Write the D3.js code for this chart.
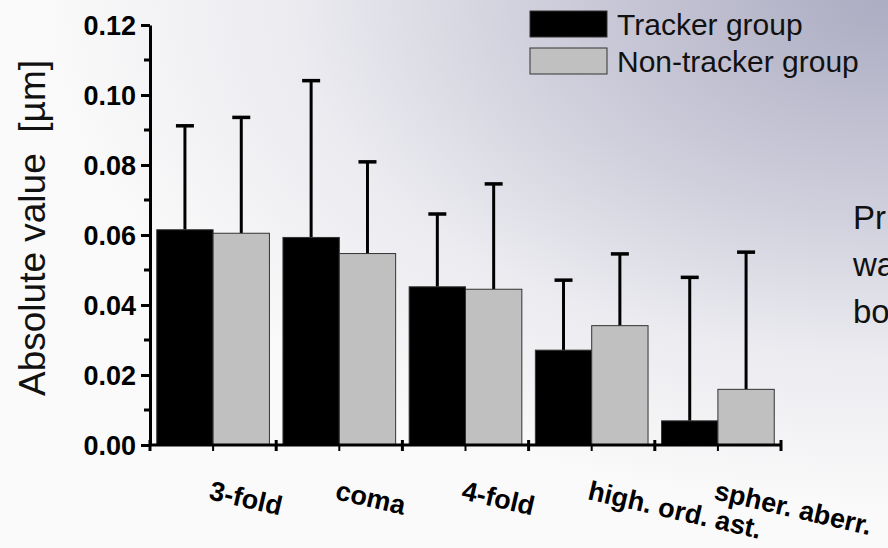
<!DOCTYPE html>
<html>
<head>
<meta charset="utf-8">
<script src="https://cdn.jsdelivr.net/npm/d3@7"></script>
<style>
  body { margin: 0; padding: 0; overflow: hidden; }
  svg { display: block; font-family: Arial, "Liberation Sans", sans-serif; }
</style>
</head>
<body>
<script>
// data
const categories = ["3-fold", "coma", "4-fold", "high. ord. ast.", "spher. aberr."];
const seriesNames = ["Tracker group", "Non-tracker group"];
const trackerValues = [0.0615, 0.0593, 0.0452, 0.0271, 0.0069];
const trackerErrors = [0.0297, 0.0448, 0.0208, 0.0200, 0.0410];
const nonTrackerValues = [0.0605, 0.0547, 0.0445, 0.0341, 0.0159];
const nonTrackerErrors = [0.0331, 0.0262, 0.0301, 0.0205, 0.0392];
const yTicks = [0, 0.02, 0.04, 0.06, 0.08, 0.10, 0.12];
const yMinorTicks = [0.01, 0.03, 0.05, 0.07, 0.09, 0.11];
const sideText = ["Pr", "wa", "bo"];

const width = 888;
const height = 548;
const colors = ["#000000", "#c0c0c0"];

const svg = d3.select("body")
    .append("svg")
    .attr("width", width)
    .attr("height", height);

// background gradient (slide)
const defs = svg.append("defs");
const grad = defs.append("radialGradient")
    .attr("id", "bg")
    .attr("gradientUnits", "userSpaceOnUse")
    .attr("cx", 888).attr("cy", 0).attr("r", 850)
    .attr("gradientTransform", "scale(1,0.6)");
grad.append("stop").attr("offset", 0).attr("stop-color", "#acacc2");
grad.append("stop").attr("offset", 0.35).attr("stop-color", "#c9c9d8");
grad.append("stop").attr("offset", 0.7).attr("stop-color", "#ebebf0");
grad.append("stop").attr("offset", 1).attr("stop-color", "#fafafa");
svg.append("rect")
    .attr("width", width).attr("height", height)
    .attr("fill", "url(#bg)");

// scales
const x0 = d3.scaleBand()
    .domain(categories)
    .range([150, 781])
    .paddingInner(0)
    .paddingOuter(0);
const x1 = d3.scaleBand()
    .domain(seriesNames)
    .range([0, x0.bandwidth()])
    .paddingOuter(0.12)
    .paddingInner(0);
const y = d3.scaleLinear()
    .domain([0, 0.12])
    .range([445, 25]);

// table for bars
const rows = [];
categories.forEach((c, i) => {
    rows.push({ cat: c, s: seriesNames[0], v: trackerValues[i], e: trackerErrors[i], k: 0 });
    rows.push({ cat: c, s: seriesNames[1], v: nonTrackerValues[i], e: nonTrackerErrors[i], k: 1 });
});
const cx = d => x0(d.cat) + x1(d.s) + x1.bandwidth() / 2;

// error bars (only upper half shows)
const err = svg.append("g").attr("stroke", "#000").attr("stroke-width", 3);
err.selectAll("line.stem")
    .data(rows)
    .enter()
    .append("line")
    .attr("x1", cx).attr("x2", cx)
    .attr("y1", d => y(d.v))
    .attr("y2", d => y(d.v + d.e));
err.selectAll("line.cap")
    .data(rows)
    .enter()
    .append("line")
    .attr("x1", d => cx(d) - 9)
    .attr("x2", d => cx(d) + 9)
    .attr("y1", d => y(d.v + d.e))
    .attr("y2", d => y(d.v + d.e))
    .attr("stroke-width", 3.5);

// bars
svg.append("g")
    .selectAll("rect")
    .data(rows)
    .enter()
    .append("rect")
    .attr("x", d => x0(d.cat) + x1(d.s))
    .attr("y", d => y(d.v))
    .attr("width", x1.bandwidth())
    .attr("height", d => y(0) - y(d.v))
    .attr("fill", d => colors[d.k])
    .attr("stroke", "#333")
    .attr("stroke-width", 1);

// y axis
const yAxis = svg.append("g")
    .attr("transform", "translate(150,0)")
    .call(d3.axisLeft(y).tickValues(yTicks).tickFormat(d3.format(".2f")).tickSize(9).tickSizeOuter(0));
yAxis.select(".domain").attr("stroke-width", 3);
yAxis.selectAll(".tick line").attr("stroke-width", 3);
yAxis.selectAll(".tick text")
    .attr("x", -14)
    .attr("dy", "0.36em")
    .style("font-size", "27px")
    .style("font-weight", "bold")
    .style("font-family", "Arial, 'Liberation Sans', sans-serif")
    .attr("fill", "#000");
svg.append("g")
    .selectAll("line")
    .data(yMinorTicks)
    .enter()
    .append("line")
    .attr("x1", 144).attr("x2", 150)
    .attr("y1", d => y(d)).attr("y2", d => y(d))
    .attr("stroke", "#000").attr("stroke-width", 3);

// x axis
svg.append("line")
    .attr("x1", 150).attr("x2", 782)
    .attr("y1", y(0)).attr("y2", y(0))
    .attr("stroke", "#000").attr("stroke-width", 3);
const bounds = categories.map(c => x0(c)).concat([x0.range()[1]]);
svg.append("g")
    .selectAll("line")
    .data(bounds)
    .enter()
    .append("line")
    .attr("x1", d => d).attr("x2", d => d)
    .attr("y1", y(0) - 5).attr("y2", y(0) + 6)
    .attr("stroke", "#000").attr("stroke-width", 3);
svg.append("g")
    .selectAll("line")
    .data(categories)
    .enter()
    .append("line")
    .attr("x1", d => x0(d) + x0.bandwidth() / 2).attr("x2", d => x0(d) + x0.bandwidth() / 2)
    .attr("y1", y(0)).attr("y2", y(0) + 6)
    .attr("stroke", "#000").attr("stroke-width", 2);

// category labels, tilted
svg.append("g")
    .selectAll("text")
    .data(categories)
    .enter()
    .append("text")
    .attr("transform", d => `translate(${x0(d) + x0.bandwidth() / 2 - 5}, 499) rotate(13)`)
    .style("font-size", "27px")
    .style("font-weight", "bold")
    .attr("fill", "#000")
    .text(d => d);

// y label
svg.append("text")
    .attr("transform", "translate(45,228) rotate(-90)")
    .attr("text-anchor", "middle")
    .style("font-size", "37px")
    .style("white-space", "pre")
    .attr("fill", "#111")
    .text("Absolute value  [µm]");

// legend
const legend = svg.append("g");
seriesNames.forEach((s, i) => {
    legend.append("rect")
        .attr("x", 530).attr("y", 11 + i * 37)
        .attr("width", 77).attr("height", 26)
        .attr("fill", colors[i])
        .attr("stroke", "#333").attr("stroke-width", 1);
    legend.append("text")
        .attr("x", 617).attr("y", 35 + i * 37)
        .style("font-size", "30px")
        .attr("fill", "#111")
        .text(s);
});

// slide text cut by the right edge, as in the picture
svg.append("g")
    .selectAll("text")
    .data(sideText)
    .enter()
    .append("text")
    .attr("x", 853)
    .attr("y", (d, i) => 229 + i * 47)
    .style("font-size", "33px")
    .attr("fill", "#111")
    .text(d => d);
</script>
</body>
</html>
